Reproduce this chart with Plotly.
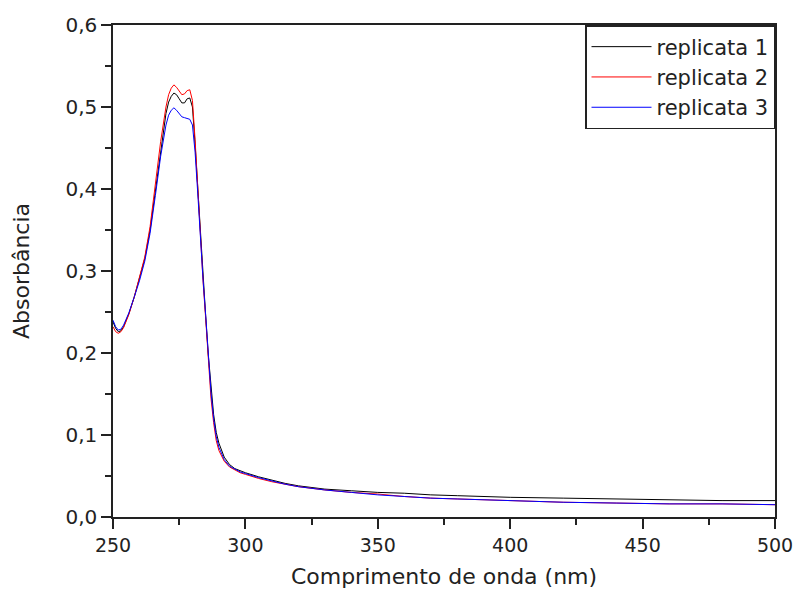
import plotly.graph_objects as go

wavelength = [250, 251, 252, 253, 254, 256, 258, 260, 262, 264, 266, 268, 270, 271, 272, 273, 274, 275,
              276, 277, 278, 279, 280, 281, 282, 283, 284, 285, 286, 287, 288, 289, 290, 292, 294, 296,
              298, 300, 305, 310, 315, 320, 330, 340, 350, 360, 370, 380, 390, 400, 420, 440, 460, 480, 500]

rep1 = [0.238, 0.230, 0.226, 0.227, 0.232, 0.248, 0.268, 0.290, 0.315, 0.350, 0.398, 0.450, 0.492, 0.506, 0.513,
        0.517, 0.515, 0.510, 0.505, 0.505, 0.510, 0.511, 0.500, 0.455, 0.400, 0.340, 0.290, 0.245, 0.197, 0.155,
        0.125, 0.103, 0.090, 0.073, 0.064, 0.059, 0.056, 0.054, 0.049, 0.045, 0.041, 0.038, 0.034, 0.032, 0.030,
        0.029, 0.027, 0.026, 0.025, 0.024, 0.023, 0.022, 0.021, 0.020, 0.020]

rep2 = [0.232, 0.226, 0.224, 0.226, 0.231, 0.247, 0.268, 0.291, 0.317, 0.354, 0.403, 0.458, 0.500, 0.515, 0.523,
        0.527, 0.524, 0.519, 0.515, 0.516, 0.520, 0.521, 0.508, 0.460, 0.402, 0.340, 0.288, 0.242, 0.190, 0.145,
        0.115, 0.093, 0.081, 0.068, 0.061, 0.057, 0.054, 0.052, 0.047, 0.043, 0.040, 0.037, 0.033, 0.030, 0.028,
        0.025, 0.023, 0.022, 0.021, 0.020, 0.018, 0.017, 0.016, 0.016, 0.015]

rep3 = [0.240, 0.232, 0.228, 0.229, 0.234, 0.249, 0.268, 0.288, 0.312, 0.346, 0.392, 0.440, 0.478, 0.490, 0.496,
        0.499, 0.496, 0.492, 0.488, 0.487, 0.486, 0.485, 0.478, 0.445, 0.395, 0.338, 0.290, 0.246, 0.196, 0.152,
        0.120, 0.098, 0.085, 0.070, 0.062, 0.058, 0.055, 0.053, 0.048, 0.044, 0.040, 0.037, 0.033, 0.030, 0.027,
        0.025, 0.023, 0.022, 0.021, 0.020, 0.018, 0.017, 0.016, 0.016, 0.015]

series = [("replicata 1", rep1, "#000000"), ("replicata 2", rep2, "#ff0000"), ("replicata 3", rep3, "#0000ff")]

fig = go.Figure()
for name, vals, col in series:
    fig.add_trace(go.Scatter(x=wavelength, y=vals, mode="lines", name=name,
                             line=dict(color=col, width=1)))

font_family = "DejaVu Sans, Liberation Sans, Arial, sans-serif"
axis_col = "#222222"
fig.update_layout(
    width=794, height=595,
    margin=dict(l=113, r=19, t=25, b=78, autoexpand=False),
    paper_bgcolor="white", plot_bgcolor="white",
    font=dict(family=font_family, color="#222222", size=21),
    showlegend=True,
    legend=dict(x=1, y=1, xanchor="right", yanchor="top", bgcolor="white",
                bordercolor=axis_col, borderwidth=1.5, font=dict(size=21),
                tracegroupgap=0, itemwidth=60),
)
fig.update_xaxes(range=[250, 500], tickvals=[250, 300, 350, 400, 450, 500],
                 ticks="outside", ticklen=10, tickwidth=1.5, tickcolor=axis_col,
                 ticklabeloverflow="allow",
                 minor=dict(dtick=25, tick0=250, ticks="outside", ticklen=6, tickwidth=1.5, tickcolor=axis_col),
                 showline=True, linecolor=axis_col, linewidth=1.5, mirror=True, showgrid=False, zeroline=False,
                 title=dict(text="Comprimento de onda (nm)", font=dict(size=22), standoff=14),
                 tickfont=dict(size=19))
fig.update_yaxes(range=[0, 0.6], tickvals=[0, 0.1, 0.2, 0.3, 0.4, 0.5, 0.6],
                 ticktext=["0,0", "0,1", "0,2", "0,3", "0,4", "0,5", "0,6"],
                 ticks="outside", ticklen=10, tickwidth=1.5, tickcolor=axis_col,
                 ticklabeloverflow="allow",
                 minor=dict(dtick=0.05, tick0=0, ticks="outside", ticklen=6, tickwidth=1.5, tickcolor=axis_col),
                 showline=True, linecolor=axis_col, linewidth=1.5, mirror=True, showgrid=False, zeroline=False,
                 title=dict(text="Absorbância", font=dict(size=22), standoff=30),
                 tickfont=dict(size=20))

fig.write_html("out.html")
